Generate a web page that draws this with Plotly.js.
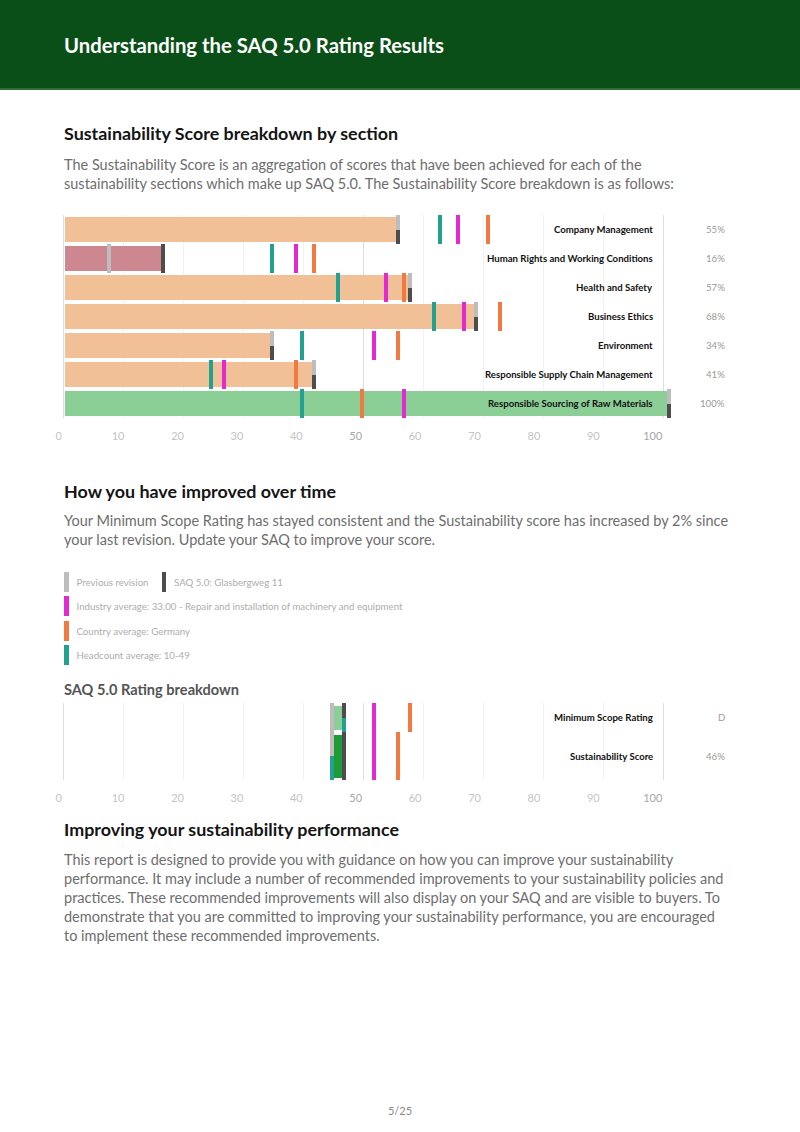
<!DOCTYPE html>
<html><head><meta charset="utf-8">
<script src="https://cdn.plot.ly/plotly-3.0.1.min.js"></script>
<style>
body{margin:0;width:800px;height:1132px;position:relative;font-family:Lato,'Open Sans',sans-serif;background:#fff;overflow:hidden}
.abs{position:absolute;white-space:nowrap}
#hdr{position:absolute;left:0;top:0;width:800px;height:88px;background:#0b4f18;border-bottom:2px solid #2f6e35}
#hdr div{position:absolute;left:64px;top:32px;font-size:20.3px;line-height:26px;font-weight:700;color:#fff}
.h2{left:64px;font-size:17.9px;line-height:22px;font-weight:700;color:#141414}
.p{left:64px;font-size:14.5px;line-height:19px;color:#6e6e6e}
.h3{left:64px;font-size:14.6px;line-height:18px;font-weight:700;color:#555}
.lg{font-size:9.7px;line-height:20px;color:#adadad}
.sw{position:absolute;width:4.5px;height:20px}
#c1{position:absolute;left:0;top:200px;width:800px;height:250px}
#c2{position:absolute;left:0;top:695px;width:800px;height:115px}
</style></head><body>
<div id="hdr"><div>Understanding the SAQ 5.0 Rating Results</div></div>

<div class="abs h2" style="top:122px">Sustainability Score breakdown by section</div>
<div class="abs p" style="top:154.5px">The Sustainability Score is an aggregation of scores that have been achieved for each of the<br>sustainability sections which make up SAQ 5.0. The Sustainability Score breakdown is as follows:</div>

<div id="c1"></div>

<div class="abs h2" style="top:479.5px">How you have improved over time</div>
<div class="abs p" style="top:511px">Your Minimum Scope Rating has stayed consistent and the Sustainability score has increased by 2% since<br>your last revision. Update your SAQ to improve your score.</div>

<div id="legend"></div>

<div class="abs h3" style="top:681px">SAQ 5.0 Rating breakdown</div>
<div id="c2"></div>

<div class="abs h2" style="top:817.5px">Improving your sustainability performance</div>
<div class="abs p" style="top:850px">This report is designed to provide you with guidance on how you can improve your sustainability<br>performance. It may include a number of recommended improvements to your sustainability policies and<br>practices. These recommended improvements will also display on your SAQ and are visible to buyers. To<br>demonstrate that you are committed to improving your sustainability performance, you are encouraged<br>to implement these recommended improvements.</div>

<div class="abs" style="left:0;width:800px;top:1104px;text-align:center;font-size:11px;line-height:14px;color:#8a8a8a">5/25</div>

<script>
// ---------------- DATA ----------------
const sections = ['Company Management','Human Rights and Working Conditions','Health and Safety','Business Ethics','Environment','Responsible Supply Chain Management','Responsible Sourcing of Raw Materials'];
const sectionScores = [55,16,57,68,34,41,100];
const previousRevision = [55,7,57,68,34,41,100];
const currentRevision = [55,16,57,68,34,41,100];
const industryAverage = [65,38,53,66,51,26,56];
const countryAverage = [70,41,56,72,55,38,49];
const headcountAverage = [62,34,45,61,39,24,39];

const ratingRows = ['Minimum Scope Rating','Sustainability Score'];
const ratingLabels = ['D','46%'];
const ratingPrevious = [44,44];
const ratingCurrent = [46,46];
const ratingIndustry = [51,51];
const ratingCountry = [57,55];
const ratingHeadcount = [46,44];

const legendItems = [
  ['Previous revision','SAQ 5.0: Glasbergweg 11'],
  ['Industry average: 33.00 - Repair and installation of machinery and equipment'],
  ['Country average: Germany'],
  ['Headcount average: 10-49']
];
const axisTicks = [0,10,20,30,40,50,60,70,80,90,100];

// ---------------- STYLE ----------------
const C = {prev:'#bdbdbd', cur:'#4d4d4d', ind:'#e22ad2', cty:'#f07a42', head:'#22a190',
  peach:'#f1c096', rose:'#cc8790', green:'#8bcf96', dgreen:'#1e9a36'};
const FONT = 'Lato, Open Sans, sans-serif';
const PX = 6.02;            // pixels per unit on the data axis
const MW = 4 / PX;          // marker width in data units
const PL = 55, PR = 672;    // plot area, page px
const dataRange = [(PL-65)/PX, (PR-65)/PX];
const gridRange = [(PL-63.5)/6, (PR-63.5)/6];
const labRange = [(PL-58.7)/5.94, (PR-58.7)/5.94];
const xp = px => (px-PL)/(PR-PL);

// legend (HTML)
(function(){
  const lg = document.getElementById('legend');
  const colors = [[C.prev,C.cur],[C.ind],[C.cty],[C.head]];
  legendItems.forEach((row,r)=>{
    const top = 572 + r*24.3;
    row.forEach((txt,k)=>{
      const x = k===0 ? 64 : 161.5;
      const sw = document.createElement('div');
      sw.className='sw'; sw.style.left=x+'px'; sw.style.top=top+'px'; sw.style.background=colors[r][k];
      lg.appendChild(sw);
      const t = document.createElement('div');
      t.className='abs lg'; t.style.left=(x+12.5)+'px'; t.style.top=top+'px'; t.textContent=txt;
      lg.appendChild(t);
    });
  });
})();

function centersOf(heights){
  const c=[]; let acc=0;
  heights.forEach(h=>{c.push(acc+h/2); acc+=h;});
  return c;
}

function markerTraces(series, centers, heights){
  const out = series.map(s=>({base:[],x:[],y:[],w:[]}));
  for(let r=0;r<centers.length;r++){
    const groups = {};
    series.forEach((s,k)=>{const v=s.values[r]; (groups[v]=groups[v]||[]).push(k);});
    Object.values(groups).forEach(g=>{
      const h = heights[r]/g.length;
      g.forEach((k,j)=>{
        const top = centers[r]-heights[r]/2 + j*h;
        out[k].base.push(series[k].values[r]);
        out[k].x.push(MW);
        out[k].y.push(top+h/2);
        out[k].w.push(h);
      });
    });
  }
  return out.map((o,k)=>({type:'bar',orientation:'h',base:o.base,x:o.x,y:o.y,width:o.w,
    marker:{color:series[k].color,line:{width:0}},showlegend:false,hoverinfo:'skip'}));
}

// invisible helper traces so the overlaying grid/label axes are instantiated
function axisHelpers(totalH){
  return ['x2','x3','x4'].map(ax=>({type:'scatter',mode:'markers',x:axisTicks,y:axisTicks.map(()=>totalH/2),
    xaxis:ax,yaxis:'y',marker:{opacity:0,size:1},showlegend:false,hoverinfo:'skip'}));
}

function axes(totalH){
  const tickText = axisTicks.map(v=> (v===50||v===100) ? '<span style="color:#a6a6a6">'+v+'</span>' : String(v));
  return {
    xaxis:{range:dataRange,showgrid:false,zeroline:false,showticklabels:false,ticks:'',fixedrange:true},
    xaxis2:{overlaying:'x',range:gridRange,autorange:false,tickmode:'array',tickvals:axisTicks,showgrid:true,gridcolor:'#f1f1f1',gridwidth:1,
      zeroline:false,showticklabels:false,ticks:'',fixedrange:true},
    xaxis3:{overlaying:'x',range:gridRange,autorange:false,tickmode:'array',tickvals:[0,50,100],showgrid:true,gridcolor:'#dedede',gridwidth:1,
      zeroline:false,showticklabels:false,ticks:'',fixedrange:true},
    xaxis4:{overlaying:'x',range:labRange,autorange:false,tickmode:'array',tickvals:axisTicks,ticktext:tickText,showgrid:false,zeroline:false,
      ticks:'',side:'bottom',anchor:'y',ticklabelstandoff:10,tickfont:{family:FONT,size:11,color:'#c4c4c4'},fixedrange:true},
    yaxis:{range:[totalH,0],autorange:false,showgrid:false,zeroline:false,showticklabels:false,ticks:'',fixedrange:true}
  };
}

// ---------------- CHART 1 ----------------
(function(){
  const rowH = sections.map(()=>29.15);
  const centers = centersOf(rowH);
  const totalH = rowH.reduce((a,b)=>a+b,0);
  const barColor = sectionScores.map(v=> v>=100 ? C.green : (v<20 ? C.rose : C.peach));
  const bars = {type:'bar',orientation:'h',base:sectionScores.map(()=>0),x:sectionScores,y:centers,
    width:rowH.map(h=>h-5),marker:{color:barColor,line:{width:0}},showlegend:false,hoverinfo:'skip'};
  const markers = markerTraces([
    {values:previousRevision,color:C.prev},
    {values:currentRevision,color:C.cur},
    {values:industryAverage,color:C.ind},
    {values:countryAverage,color:C.cty},
    {values:headcountAverage,color:C.head}
  ], centers, rowH);
  const ann = [];
  sections.forEach((s,i)=>{
    ann.push({xref:'paper',yref:'y',x:xp(655),y:centers[i],xanchor:'right',yanchor:'middle',showarrow:false,
      text:s,font:{family:FONT,size:9.6,color:'#111',weight:700}});
    ann.push({xref:'paper',yref:'y',x:xp(727),y:centers[i],xanchor:'right',yanchor:'middle',showarrow:false,
      text:sectionScores[i]+'%',font:{family:FONT,size:9.6,color:'#9a9a9a'}});
  });
  const layout = Object.assign({width:800,height:250,margin:{l:PL,r:800-PR,t:14.5,b:31.5},
    paper_bgcolor:'rgba(0,0,0,0)',plot_bgcolor:'rgba(0,0,0,0)',barmode:'overlay',bargap:0,
    annotations:ann,hovermode:false,font:{family:FONT}}, axes(totalH));
  Plotly.newPlot('c1',axisHelpers(totalH).concat([bars]).concat(markers),layout,{staticPlot:true,displayModeBar:false});
})();

// ---------------- CHART 2 ----------------
(function(){
  const rowH = [29,48];
  const centers = centersOf(rowH);
  const totalH = rowH.reduce((a,b)=>a+b,0);
  const rowColor = [C.green, C.dgreen];
  const bars = {type:'bar',orientation:'h',base:ratingPrevious.map(v=>v+MW),
    x:ratingCurrent.map((v,i)=>v-ratingPrevious[i]-MW),y:centers,width:rowH.map(h=>h-5),
    marker:{color:rowColor,line:{width:0}},showlegend:false,hoverinfo:'skip'};
  const markers = markerTraces([
    {values:ratingPrevious,color:C.prev},
    {values:ratingCurrent,color:C.cur},
    {values:ratingIndustry,color:C.ind},
    {values:ratingCountry,color:C.cty},
    {values:ratingHeadcount,color:C.head}
  ], centers, rowH);
  const ann = [];
  ratingRows.forEach((s,i)=>{
    ann.push({xref:'paper',yref:'y',x:xp(655),y:centers[i],xanchor:'right',yanchor:'middle',showarrow:false,
      text:s,font:{family:FONT,size:9.6,color:'#111',weight:700}});
    ann.push({xref:'paper',yref:'y',x:xp(727),y:centers[i],xanchor:'right',yanchor:'middle',showarrow:false,
      text:ratingLabels[i],font:{family:FONT,size:9.6,color:'#9a9a9a'}});
  });
  const layout = Object.assign({width:800,height:115,margin:{l:PL,r:800-PR,t:8,b:30},
    paper_bgcolor:'rgba(0,0,0,0)',plot_bgcolor:'rgba(0,0,0,0)',barmode:'overlay',bargap:0,
    annotations:ann,hovermode:false,font:{family:FONT}}, axes(totalH));
  Plotly.newPlot('c2',axisHelpers(totalH).concat([bars]).concat(markers),layout,{staticPlot:true,displayModeBar:false});
})();
</script>
</body></html>
